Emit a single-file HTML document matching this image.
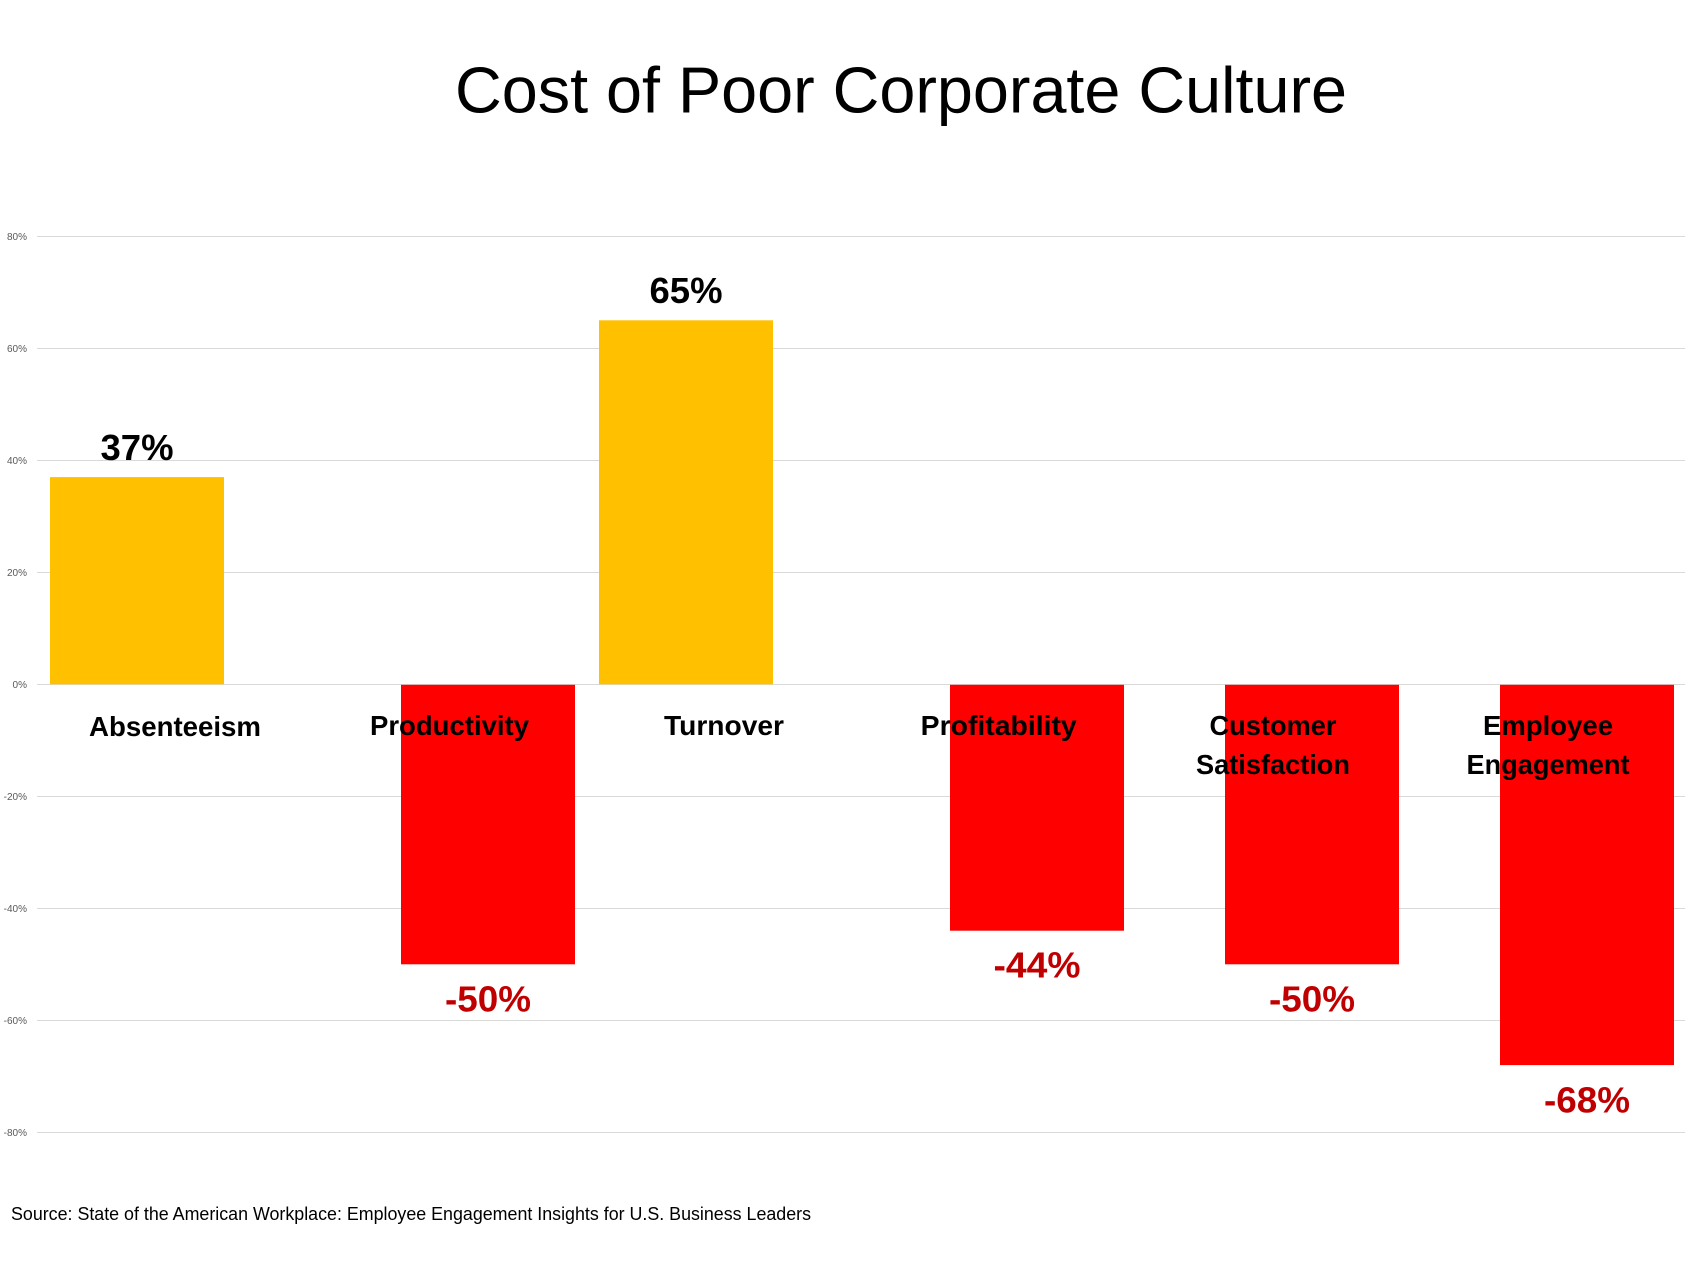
<!DOCTYPE html>
<html>
<head>
<meta charset="utf-8">
<style>
  html, body { margin: 0; padding: 0; background: #ffffff; }
  svg { display: block; }
  text { font-family: "Liberation Sans", "DejaVu Sans", sans-serif; }
</style>
</head>
<body>
<svg width="1707" height="1280" viewBox="0 0 1707 1280" xmlns="http://www.w3.org/2000/svg">
  <rect x="0" y="0" width="1707" height="1280" fill="#ffffff"/>

  <!-- Title -->
  <text x="901" y="112.7" font-size="65" text-anchor="middle" fill="#000000" textLength="892" lengthAdjust="spacingAndGlyphs">Cost of Poor Corporate Culture</text>

  <!-- Gridlines -->
  <g stroke="#D9D9D9" stroke-width="1">
    <line x1="37" y1="236.5" x2="1685" y2="236.5"/>
    <line x1="37" y1="348.5" x2="1685" y2="348.5"/>
    <line x1="37" y1="460.5" x2="1685" y2="460.5"/>
    <line x1="37" y1="572.5" x2="1685" y2="572.5"/>
    <line x1="37" y1="684.5" x2="1685" y2="684.5"/>
    <line x1="37" y1="796.5" x2="1685" y2="796.5"/>
    <line x1="37" y1="908.5" x2="1685" y2="908.5"/>
    <line x1="37" y1="1020.5" x2="1685" y2="1020.5"/>
    <line x1="37" y1="1132.5" x2="1685" y2="1132.5"/>
  </g>

  <!-- Axis labels -->
  <g font-size="10" fill="#595959" text-anchor="end">
    <text x="27" y="240">80%</text>
    <text x="27" y="352">60%</text>
    <text x="27" y="464">40%</text>
    <text x="27" y="576">20%</text>
    <text x="27" y="688">0%</text>
    <text x="27" y="800">-20%</text>
    <text x="27" y="912">-40%</text>
    <text x="27" y="1024">-60%</text>
    <text x="27" y="1136">-80%</text>
  </g>

  <!-- Bars -->
  <rect x="50" y="477.1" width="174" height="207.2" fill="#FFC000"/>
  <rect x="599" y="320.3" width="174" height="364" fill="#FFC000"/>
  <rect x="401" y="684.8" width="174" height="279.5" fill="#FF0000"/>
  <rect x="950" y="684.8" width="174" height="245.9" fill="#FF0000"/>
  <rect x="1225" y="684.8" width="174" height="279.5" fill="#FF0000"/>
  <rect x="1500" y="684.8" width="174" height="380.3" fill="#FF0000"/>

  <!-- Positive data labels -->
  <g font-size="36" font-weight="bold" fill="#000000" text-anchor="middle">
    <text x="137" y="460" textLength="73" lengthAdjust="spacingAndGlyphs">37%</text>
    <text x="686" y="303" textLength="73" lengthAdjust="spacingAndGlyphs">65%</text>
  </g>

  <!-- Negative data labels -->
  <g font-size="36" font-weight="bold" fill="#C00000" text-anchor="middle">
    <text x="488" y="1011.7" textLength="86" lengthAdjust="spacingAndGlyphs">-50%</text>
    <text x="1037" y="977.7" textLength="87" lengthAdjust="spacingAndGlyphs">-44%</text>
    <text x="1312" y="1011.7" textLength="86" lengthAdjust="spacingAndGlyphs">-50%</text>
    <text x="1587" y="1112.7" textLength="86" lengthAdjust="spacingAndGlyphs">-68%</text>
  </g>

  <!-- Category labels -->
  <g font-size="28" font-weight="bold" fill="#000000" text-anchor="middle">
    <text x="175" y="736" textLength="172" lengthAdjust="spacingAndGlyphs">Absenteeism</text>
    <text x="449.5" y="735" textLength="159" lengthAdjust="spacingAndGlyphs">Productivity</text>
    <text x="724" y="735" textLength="120" lengthAdjust="spacingAndGlyphs">Turnover</text>
    <text x="998.7" y="735" textLength="156" lengthAdjust="spacingAndGlyphs">Profitability</text>
    <text x="1273" y="735" textLength="127" lengthAdjust="spacingAndGlyphs">Customer</text>
    <text x="1273" y="774" textLength="154" lengthAdjust="spacingAndGlyphs">Satisfaction</text>
    <text x="1548" y="735" textLength="130" lengthAdjust="spacingAndGlyphs">Employee</text>
    <text x="1548" y="774" textLength="163" lengthAdjust="spacingAndGlyphs">Engagement</text>
  </g>

  <!-- Source -->
  <text x="11" y="1220" font-size="18" fill="#000000" textLength="800" lengthAdjust="spacingAndGlyphs">Source: State of the American Workplace: Employee Engagement Insights for U.S. Business Leaders</text>
</svg>
</body>
</html>
